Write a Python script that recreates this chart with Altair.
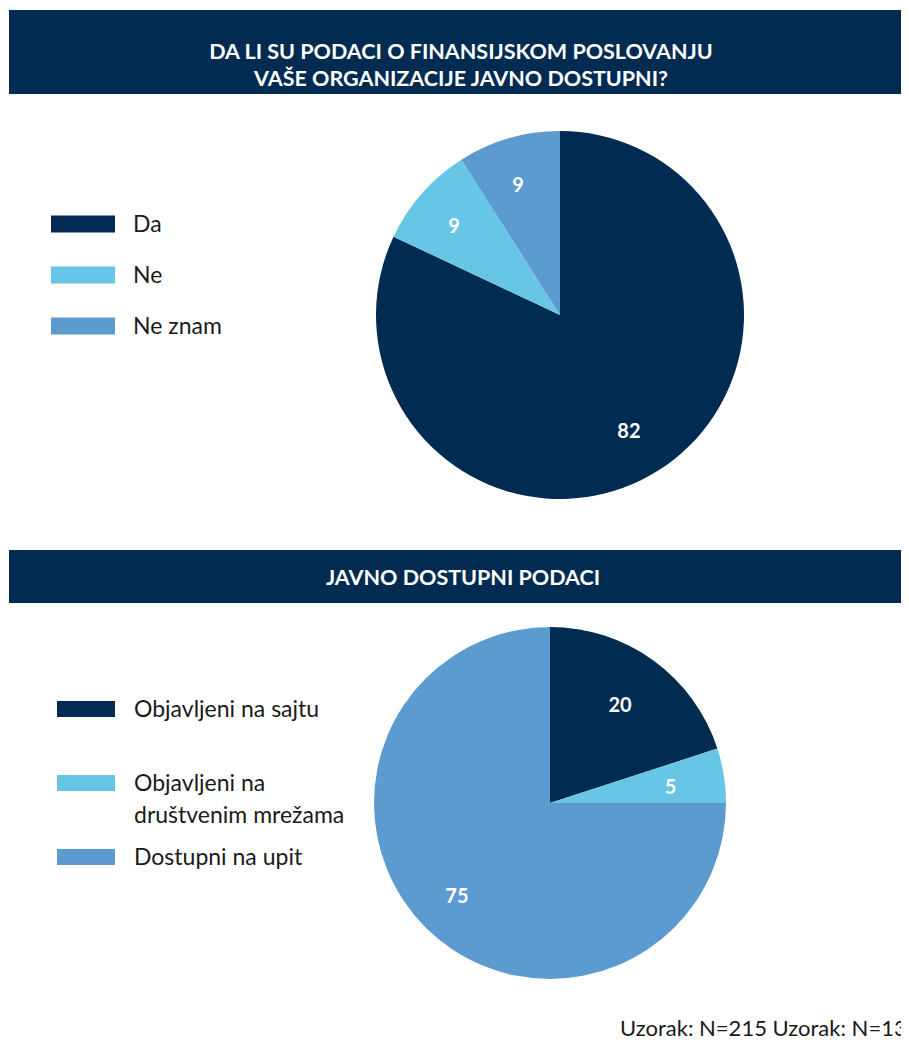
import altair as alt
import pandas as pd

# ---------------- data ----------------
q1_title = "DA LI SU PODACI O FINANSIJSKOM POSLOVANJU\nVAŠE ORGANIZACIJE JAVNO DOSTUPNI?"
q1_categories = ["Da", "Ne", "Ne znam"]
q1_values = [82, 9, 9]

q2_title = "JAVNO DOSTUPNI PODACI"
q2_categories = ["Objavljeni na sajtu", "Objavljeni na\ndruštvenim mrežama", "Dostupni na upit"]
q2_values = [20, 5, 75]

slice_colors = ["#022b52", "#67c5e6", "#5b9bd0"]
footer_text = "Uzorak: N=215 Uzorak: N=133"

NAVY = "#022b52"
FONT = "Lato"

df1 = pd.DataFrame({"cat": q1_categories, "value": q1_values,
                    "color": slice_colors, "idx": list(range(len(q1_categories)))})
df2 = pd.DataFrame({"cat": q2_categories, "value": q2_values,
                    "color": slice_colors, "idx": list(range(len(q2_categories)))})
t1 = pd.DataFrame({"t": [q1_title]})
t2 = pd.DataFrame({"t": [q2_title]})
foot = pd.DataFrame({"t": [footer_text]})

swatch1 = "M-1,-0.266L1,-0.266L1,0.266L-1,0.266Z"
swatch2 = "M-1,-0.276L1,-0.276L1,0.276L-1,0.276Z"

W, H = 893, 1030

# ---------------- header bands ----------------
band1 = alt.Chart(t1).mark_rect(color=NAVY).encode(
    x=alt.value(1), x2=alt.value(W), y=alt.value(2), y2=alt.value(86))
title1 = alt.Chart(t1).mark_text(font=FONT, fontWeight="bold", fontSize=21.5, color="white",
                                 lineBreak="\n", lineHeight=27, baseline="alphabetic",
                                 align="center").encode(
    x=alt.value(453), y=alt.value(51), text="t:N")
band2 = alt.Chart(t2).mark_rect(color=NAVY).encode(
    x=alt.value(1), x2=alt.value(W), y=alt.value(542), y2=alt.value(595))
title2 = alt.Chart(t2).mark_text(font=FONT, fontWeight="bold", fontSize=21.5, color="white",
                                 baseline="alphabetic", align="center").encode(
    x=alt.value(455), y=alt.value(577), text="t:N")

# ---------------- pie 1 ----------------
C1X, C1Y = 552, 307
pie1 = alt.Chart(df1).mark_arc(radius=184).encode(
    theta=alt.Theta("value:Q", stack=True),
    order=alt.Order("idx:Q"),
    color=alt.Color("color:N", scale=None),
    x=alt.value(C1X), y=alt.value(C1Y))
pie1_lbl = alt.Chart(df1).mark_text(radius=136, font=FONT, fontWeight="bold", fontSize=20,
                                    color="white", baseline="middle", dx=-4, dy=2).encode(
    theta=alt.Theta("value:Q", stack=True),
    order=alt.Order("idx:Q"),
    text=alt.Text("value:Q"),
    x=alt.value(C1X), y=alt.value(C1Y))

leg1_sw = alt.Chart(df1).mark_point(shape=swatch1, size=64 * 64, filled=True, opacity=1,
                                    strokeWidth=0).encode(
    x=alt.value(75),
    y=alt.Y("idx:Q", scale=alt.Scale(domain=[0, 2], range=[216, 318]), axis=None),
    color=alt.Color("color:N", scale=None))
leg1_tx = alt.Chart(df1).mark_text(font=FONT, fontSize=23, color="#1a1a1a", align="left",
                                   baseline="alphabetic", dy=8).encode(
    x=alt.value(125),
    y=alt.Y("idx:Q", scale=alt.Scale(domain=[0, 2], range=[216, 318]), axis=None),
    text="cat:N")

# ---------------- pie 2 ----------------
C2X, C2Y = 542, 795
pie2 = alt.Chart(df2).mark_arc(radius=176).encode(
    theta=alt.Theta("value:Q", stack=True),
    order=alt.Order("idx:Q"),
    color=alt.Color("color:N", scale=None),
    x=alt.value(C2X), y=alt.value(C2Y))
pie2_lbl = alt.Chart(df2).mark_text(radius=126, font=FONT, fontWeight="bold", fontSize=20,
                                    color="white", baseline="middle", dx=-4, dy=5).encode(
    theta=alt.Theta("value:Q", stack=True),
    order=alt.Order("idx:Q"),
    text=alt.Text("value:Q"),
    x=alt.value(C2X), y=alt.value(C2Y))

leg2_sw = alt.Chart(df2).mark_point(shape=swatch2, size=58 * 58, filled=True, opacity=1,
                                    strokeWidth=0).encode(
    x=alt.value(78),
    y=alt.Y("idx:Q", scale=alt.Scale(domain=[0, 2], range=[701, 849]), axis=None),
    color=alt.Color("color:N", scale=None))
leg2_tx = alt.Chart(df2).mark_text(font=FONT, fontSize=23, color="#1a1a1a", align="left",
                                   baseline="alphabetic", dy=8, lineBreak="\n",
                                   lineHeight=32).encode(
    x=alt.value(126),
    y=alt.Y("idx:Q", scale=alt.Scale(domain=[0, 2], range=[701, 849]), axis=None),
    text="cat:N")

footer = alt.Chart(foot).mark_text(font=FONT, fontSize=22, color="#1a1a1a", align="left",
                                   baseline="alphabetic").encode(
    x=alt.value(612), y=alt.value(1028), text="t:N")

chart = alt.layer(
    band1, title1, band2, title2,
    pie1, pie1_lbl, leg1_sw, leg1_tx,
    pie2, pie2_lbl, leg2_sw, leg2_tx,
    footer,
).resolve_scale(
    x="independent", y="independent", theta="independent", color="independent"
).properties(
    width=W, height=H,
    autosize=alt.AutoSizeParams(type="none"),
    padding=0,
).configure_view(stroke=None)

chart.save("out.html", embed_options={"renderer": "svg", "actions": False})
